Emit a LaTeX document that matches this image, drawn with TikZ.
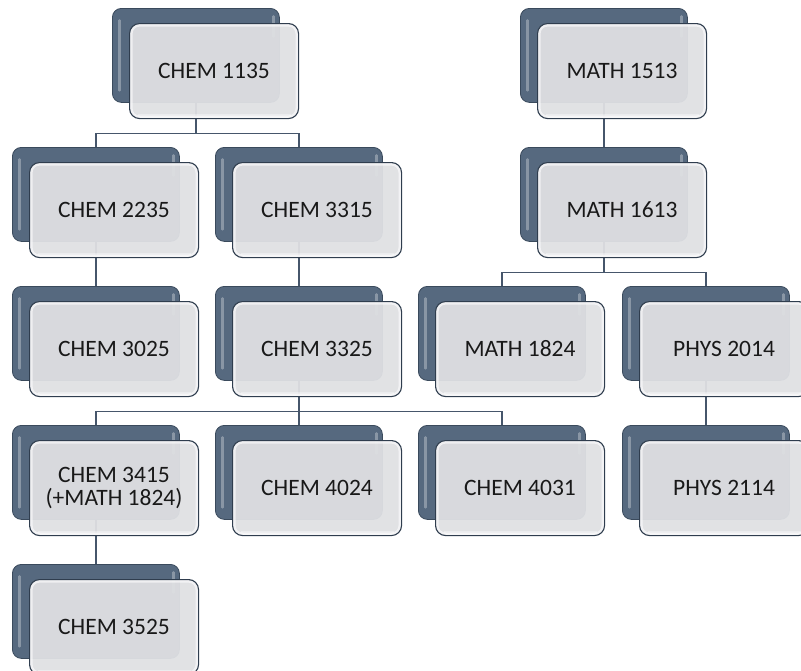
\documentclass[tikz,border=0pt]{standalone}
\usepackage{fontspec}
\setmainfont{Carlito}
\usetikzlibrary{calc,backgrounds}
\definecolor{slate}{HTML}{56697F}
\definecolor{slatedark}{HTML}{3A4A5C}
\definecolor{frontfill}{HTML}{DFE0E3}
\definecolor{frontedge}{HTML}{2F3D4E}
\definecolor{conncol}{HTML}{46566B}
\tikzset{
  backbox/.style={draw=slatedark, line width=0.8pt, fill=slate, rounded corners=9pt,
    minimum width=167pt, minimum height=94pt, inner sep=0pt, anchor=north west,
    path picture={
      \draw[line width=2.5pt, color=white, opacity=0.3, line cap=round]
        ($(path picture bounding box.north west)+(7pt,-12pt)$) -- ($(path picture bounding box.south west)+(7pt,12pt)$);
      \draw[line width=2.5pt, color=white, opacity=0.3, line cap=round]
        ($(path picture bounding box.north east)+(-6pt,-8pt)$) -- ($(path picture bounding box.north east)+(-6pt,-28pt)$);
    }},
  frontbox/.style={draw=frontedge, line width=1.1pt, fill=frontfill, fill opacity=0.95, text opacity=1,
    rounded corners=10pt, minimum width=169pt, minimum height=95pt, inner sep=0pt,
    anchor=north west, align=center, font=\fontsize{23.5}{23.5}\selectfont, text=black!90,
    path picture={
      \draw[white, line width=6pt, opacity=0.6, rounded corners=10pt]
        (path picture bounding box.south west) rectangle (path picture bounding box.north east);
      \draw[white, line width=8pt, opacity=0.35]
        ($(path picture bounding box.south west)+(8pt,1pt)$) -- ($(path picture bounding box.south east)+(-8pt,1pt)$);
    }},
  conn/.style={draw=conncol, line width=1.3pt}
}
\newcommand{\course}[4]{%
  \node[backbox] (b#1) at (#2,#3) {};
  \node[frontbox] (f#1) at ({#2+17},{#3+15}) {#4};
}
\begin{document}
\begin{tikzpicture}[x=1pt,y=-1pt]
\useasboundingbox (0,0) rectangle (801,670);
\clip (0,0) rectangle (801,670);
\course{c1135}{112}{8}{CHEM 1135}
\course{c2235}{12}{147}{CHEM 2235}
\course{c3315}{215}{147}{CHEM 3315}
\course{c3025}{12}{286}{CHEM 3025}
\course{c3325}{215}{286}{CHEM 3325}
\course{c3415}{12}{425}{CHEM 3415\\(+MATH 1824)}
\course{c4024}{215}{425}{CHEM 4024}
\course{c4031}{418}{425}{CHEM 4031}
\course{c3525}{12}{564}{CHEM 3525}
\course{m1513}{520}{8}{MATH 1513}
\course{m1613}{520}{147}{MATH 1613}
\course{m1824}{418}{286}{MATH 1824}
\course{p2014}{622}{286}{PHYS 2014}
\course{p2114}{622}{425}{PHYS 2114}
\begin{scope}[on background layer]
  \coordinate (j1) at ($(bc1135.south)+(0,31)$);
  \draw[conn] (bc1135.south) -- (j1) -| (bc2235.north);
  \draw[conn] (j1) -| (bc3315.north);
  \draw[conn] (bc2235.south) -- (bc3025.north);
  \draw[conn] (bc3315.south) -- (bc3325.north);
  \coordinate (j2) at ($(bc3325.south)+(0,31)$);
  \draw[conn] (bc3325.south) -- (j2) -| (bc3415.north);
  \draw[conn] (j2) -| (bc4024.north);
  \draw[conn] (j2) -| (bc4031.north);
  \draw[conn] (bc3415.south) -- (bc3525.north);
  \draw[conn] (bm1513.south) -- (bm1613.north);
  \coordinate (j3) at ($(bm1613.south)+(0,31)$);
  \draw[conn] (bm1613.south) -- (j3) -| (bm1824.north);
  \draw[conn] (j3) -| (bp2014.north);
  \draw[conn] (bp2014.south) -- (bp2114.north);
\end{scope}
\end{tikzpicture}
\end{document}
